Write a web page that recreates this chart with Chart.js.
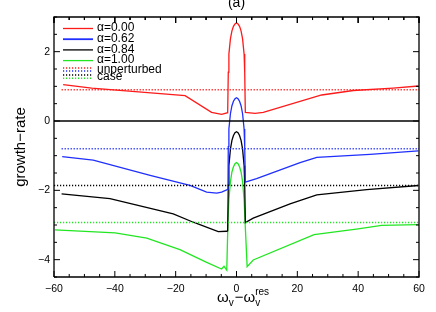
<!DOCTYPE html>
<html lang="en">
  <head>
    <meta charset="UTF-8">
    <title>growth-rate (a)</title>
    <script src="https://cdn.jsdelivr.net/npm/chart.js@4"></script>
    <style>
      body { margin: 0; background: #fff; }
    </style>
  </head>
  <body>
    <canvas id="chart" width="436" height="312"></canvas>
    <script type="text/javascript">
      // tick labels
      const xTicks = [-60, -40, -20, 0, 20, 40, 60]
      const yTicks = [-4, -2, 0, 2]

      // alpha = 0.00
      const redX = [-57, -47.6, -16.9, -8.2, -4.9, -2.9, -2.7, -2.5, -2, -1.5, -1, -0.5, 0, 0.5, 1, 1.5, 2, 2.5, 2.7, 2.9, 6.1, 8.8, 28, 38.4, 51.5, 59.8]
      const redY = [1.05, 0.95, 0.73, 0.25, 0.19, 0.24, 1.41, 1.93, 2.37, 2.6, 2.73, 2.8, 2.83, 2.8, 2.73, 2.6, 2.37, 1.93, 1.41, 0.25, 0.22, 0.25, 0.75, 0.88, 0.95, 1.01]
      // alpha = 0.62
      const blueX = [-57.3, -47.1, -28.4, -15.3, -9.8, -6.5, -4.9, -2.8, -2.7, -2.5, -2, -1.5, -1, -0.5, 0, 0.5, 1, 1.5, 2, 2.5, 2.7, 2.9, 6.6, 20.9, 26.4, 43.9, 59.8]
      const blueY = [-1.03, -1.13, -1.57, -1.86, -2.05, -2.08, -2.05, -1.97, -0.74, -0.23, 0.21, 0.44, 0.57, 0.64, 0.67, 0.64, 0.57, 0.44, 0.21, -0.23, -0.74, -1.76, -1.66, -1.2, -1.05, -0.96, -0.86]
      // alpha = 0.84
      const blackX = [-57.5, -41.6, -20.8, -14.2, -6.0, -3.2, -2.9, -2.7, -2.5, -2, -1.5, -1, -0.5, 0, 0.5, 1, 1.5, 2, 2.5, 2.7, 2.9, 5.5, 17.6, 26.4, 42.8, 59.8]
      const blackY = [-2.1, -2.24, -2.68, -2.92, -3.19, -3.18, -3.17, -1.84, -1.29, -0.81, -0.56, -0.42, -0.34, -0.31, -0.34, -0.42, -0.56, -0.81, -1.29, -1.84, -2.93, -2.8, -2.39, -2.13, -1.98, -1.86]
      // alpha = 1.00
      const greenX = [-59.7, -39.9, -29.5, -18.6, -9.8, -4.9, -4.1, -3.2, -2.8, -2.5, -2, -1.5, -1, -0.5, 0, 0.5, 1, 1.5, 2, 2.5, 2.8, 3.5, 5.5, 25.5, 40, 47.7, 59.8]
      const greenY = [-3.14, -3.23, -3.38, -3.71, -4.08, -4.27, -4.19, -4.3, -2.88, -2.27, -1.75, -1.47, -1.32, -1.23, -1.2, -1.23, -1.32, -1.47, -1.75, -2.27, -2.88, -4.2, -4.01, -3.28, -3.11, -3.01, -2.99]

      // unperturbed case levels
      const unpertX = [[-57.5, 60], [-57.5, 60], [-60, 60], [-60, 60]]
      const unpertY = [0.9, -0.8, -1.86, -2.93]

      const zeroX = [-60, 60]
      const zeroY = [0, 0]

      const labels = ['α=0.00', 'α=0.62', 'α=0.84', 'α=1.00']
      const colors = ['#ff1a1a', '#1f2fff', '#000000', '#22e622']

      const X_MIN = -60, X_MAX = 60, Y_MIN = -4.5, Y_MAX = 3

      // minor tick positions (every 5 on x, every 0.5 on y)
      const xAll = []
      for (let k = -12; k <= 12; k++) xAll.push(k * 5)
      const yAll = []
      for (let k = -9; k <= 6; k++) yAll.push(k / 2)

      const pts = (xs, ys) => xs.map((x, i) => ({ x: x, y: ys[i] }))
      const solid = (xs, ys, c) => ({ data: pts(xs, ys), borderColor: c, borderWidth: 1.3, showLine: true, pointRadius: 0, tension: 0 })

      // plot frame and inward ticks, in axis units (6px major, 3px minor)
      const frame = [
        { x: X_MIN, y: Y_MIN }, { x: X_MAX, y: Y_MIN }, { x: X_MAX, y: Y_MAX },
        { x: X_MIN, y: Y_MAX }, { x: X_MIN, y: Y_MIN }
      ]
      const tickSeg = []
      xAll.forEach(v => {
        const len = xTicks.includes(v) ? 0.173 : 0.087
        tickSeg.push({ x: v, y: Y_MIN }, { x: v, y: Y_MIN + len }, { x: v, y: null })
        tickSeg.push({ x: v, y: Y_MAX }, { x: v, y: Y_MAX - len }, { x: v, y: null })
      })
      yAll.forEach(v => {
        const len = yTicks.includes(v) ? 1.97 : 0.99
        tickSeg.push({ x: X_MIN, y: v }, { x: X_MIN + len, y: v }, { x: X_MIN, y: null })
        tickSeg.push({ x: X_MAX, y: v }, { x: X_MAX - len, y: v }, { x: X_MAX, y: null })
      })

      const datasets = [
        { data: frame, borderColor: '#000', borderWidth: 1.3, showLine: true, pointRadius: 0, clip: false },
        { data: tickSeg, borderColor: '#000', borderWidth: 1, showLine: true, spanGaps: false, pointRadius: 0, clip: false },
        solid(zeroX, zeroY, '#000000')
      ]
      unpertY.forEach((v, i) => {
        datasets.push({
          data: pts(unpertX[i], [v, v]), borderColor: colors[i], borderWidth: 1.4,
          borderDash: [1.2, 1.8], showLine: true, pointRadius: 0
        })
      })
      datasets.push(solid(redX, redY, colors[0]))
      datasets.push(solid(blueX, blueY, colors[1]))
      datasets.push(solid(blackX, blackY, colors[2]))
      datasets.push(solid(greenX, greenY, colors[3]))

      const FONT = 'Arial, "Liberation Sans", sans-serif'
      const fmt = v => String(v).replace('-', '−')

      const decor = {
        id: 'decor',
        afterDraw(chart) {
          const c = chart.ctx
          const a = chart.chartArea
          c.save()
          c.fillStyle = '#000000'

          // panel title
          c.font = '14px ' + FONT
          c.textAlign = 'center'
          c.textBaseline = 'alphabetic'
          c.fillText('(a)', (a.left + a.right) / 2, 7)

          // legend
          c.textAlign = 'left'
          c.textBaseline = 'middle'
          c.font = '12px ' + FONT
          labels.forEach((t, i) => {
            const ly = 28.5 + i * 10.7
            c.strokeStyle = colors[i]
            c.lineWidth = i === 1 ? 1.8 : 1.3
            c.setLineDash([])
            c.beginPath(); c.moveTo(63, ly); c.lineTo(93, ly); c.stroke()
            c.fillText(t, 97, ly - 0.5)
          })
          const dy = [68, 71, 75, 78.3]
          c.setLineDash([1.2, 1.8])
          c.lineWidth = 1.4
          dy.forEach((ly, i) => {
            c.strokeStyle = colors[i]
            c.beginPath(); c.moveTo(63, ly); c.lineTo(93, ly); c.stroke()
          })
          c.setLineDash([])
          c.fillText('unperturbed', 97, 69.5)
          c.fillText('case', 97, 77)

          // x-axis title with sub/superscripts
          c.textBaseline = 'alphabetic'
          let cx = 217
          const base = 302
          const big = '15px ' + FONT, small = '10px ' + FONT
          c.font = big; c.fillText('ω', cx, base); cx += c.measureText('ω').width
          c.font = small; c.fillText('v', cx, base + 4); cx += c.measureText('v').width + 1
          c.font = big; c.fillText('−', cx, base); cx += c.measureText('−').width
          c.fillText('ω', cx, base); cx += c.measureText('ω').width
          c.font = small; c.fillText('v', cx, base + 4)
          c.fillText('res', cx, base - 7)
          c.restore()
        }
      }

      const chart = new Chart(document.getElementById('chart').getContext('2d'), {
        type: 'scatter',
        data: { datasets: datasets },
        options: {
          responsive: false,
          animation: false,
          layout: { padding: { top: 17, right: 17, left: 0, bottom: 0 } },
          plugins: { legend: { display: false }, tooltip: { enabled: false } },
          scales: {
            x: {
              type: 'linear', min: X_MIN, max: X_MAX,
              afterFit: s => { s.height = 35 },
              afterBuildTicks: s => { s.ticks = xTicks.map(v => ({ value: v })) },
              grid: { display: false, drawTicks: false },
              border: { display: false },
              ticks: {
                padding: 6, color: '#000', maxRotation: 0, autoSkip: false,
                font: { family: FONT, size: 10.5 },
                callback: v => fmt(v)
              }
            },
            y: {
              type: 'linear', min: Y_MIN, max: Y_MAX,
              afterFit: s => { s.width = 54 },
              afterBuildTicks: s => { s.ticks = yTicks.map(v => ({ value: v })) },
              grid: { display: false, drawTicks: false },
              border: { display: false },
              ticks: {
                padding: 4, color: '#000', autoSkip: false,
                font: { family: FONT, size: 10.5 },
                callback: v => fmt(v)
              },
              title: {
                display: true, text: 'growth−rate', color: '#000',
                font: { family: FONT, size: 15 },
                padding: { top: 12, bottom: 0 }
              }
            }
          }
        },
        plugins: [decor]
      })
    </script>
  </body>
</html>
